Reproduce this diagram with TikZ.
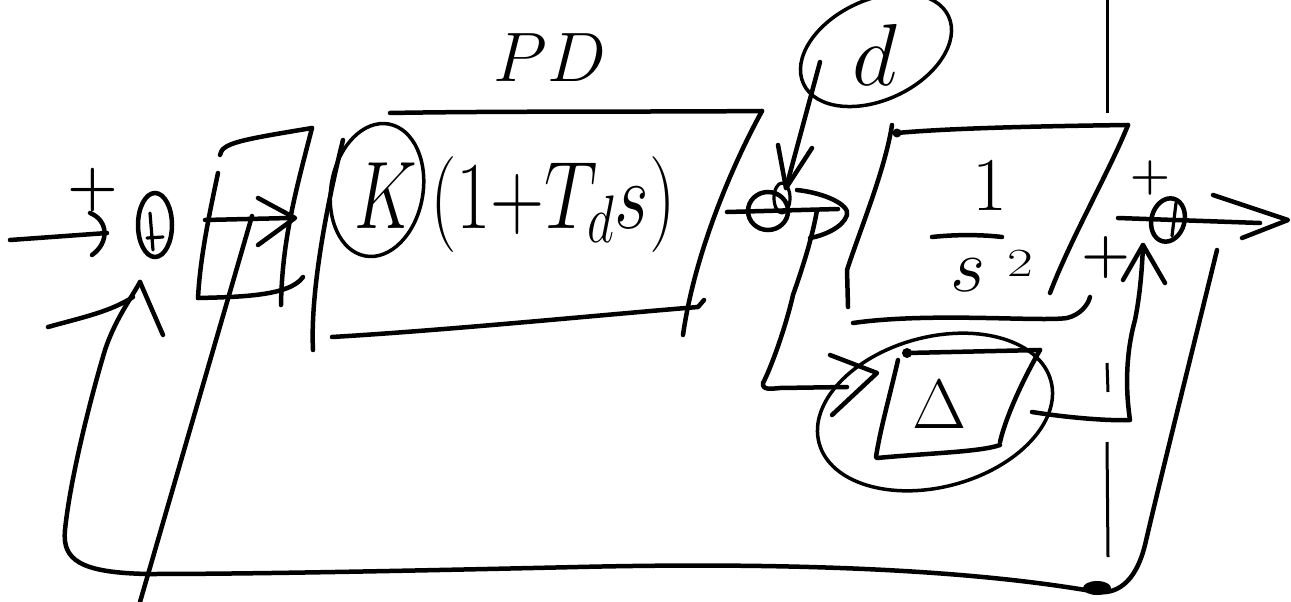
\documentclass[tikz,border=0pt]{standalone}
\usepackage{fix-cm}
\usepackage{graphicx}
\usetikzlibrary{shapes.geometric}
\begin{document}
\begin{tikzpicture}[x=1pt,y=-1pt,
  pen/.style={line width=4.5pt, line cap=round, line join=round},
  thinpen/.style={line width=3.2pt, line cap=round, line join=round},
  sumnode/.style={draw, ellipse, inner sep=0pt, line width=4.5pt},
  ring/.style={draw, ellipse, inner sep=0pt, line width=3.5pt},
  lbl/.style={inner sep=0pt, outer sep=0pt}]
\useasboundingbox (0,0) rectangle (1291,602);

% ---------- text labels ----------
\node[lbl, font=\fontsize{70}{72}\selectfont] (pd) at (550,58) {$PD$};
\node[lbl, font=\fontsize{96}{100}\selectfont, anchor=base] (kgain) at (386,228) {\scalebox{0.72}[1]{$K$}};
\node[lbl, font=\fontsize{96}{100}\selectfont, anchor=base] (pdtf) at (553,228) {\scalebox{0.78}[1]{$(1{+}T_d s)$}};
\node[ring, minimum width=92pt, minimum height=134pt, rotate=-10] (kring) at (377,190) {};
\node[ring, minimum width=160pt, minimum height=100pt, rotate=25] (dring) at (876,50) {};
\node[lbl, font=\fontsize{88}{90}\selectfont] (dlbl) at (875,55) {$d$};
\node[lbl, font=\fontsize{76}{80}\selectfont] (num) at (990,186) {$1$};
\node[lbl, font=\fontsize{76}{80}\selectfont, anchor=base] (den) at (968,291) {$s$};
\node[lbl, font=\fontsize{40}{42}\selectfont, anchor=base] (sq) at (1020,276) {\scalebox{1.4}[1]{$2$}};
\node[lbl, font=\fontsize{70}{72}\selectfont] (delta) at (940,405) {$\Delta$};
\node[ring, minimum width=240pt, minimum height=150pt, rotate=15] (dlring) at (935,412) {};
\node[lbl, font=\fontsize{58}{60}\selectfont\boldmath] (p1) at (93,190) {$+$};
\node[lbl, font=\fontsize{46}{48}\selectfont\boldmath] (p3a) at (1150,178) {$+$};
\node[lbl, font=\fontsize{56}{58}\selectfont\boldmath] (p3b) at (1106,257) {$+$};

% ---------- summing junctions ----------
\node[sumnode, minimum width=34pt, minimum height=64pt] (s1) at (155,225) {};
\node[sumnode, minimum width=40pt, minimum height=38pt] (s2) at (768,211) {};
\node[sumnode, minimum width=33pt, minimum height=44pt, rotate=-15] (s3) at (1168,220) {};
\draw[thinpen] (150,213) -- (153,250) (147,238) -- (163,237);
\draw[thinpen] (1176,203) -- (1172,236);
\draw[thinpen] (782,198) ellipse [x radius=8, y radius=15];

% ---------- named end points ----------
\coordinate (inS) at (10,240);
\coordinate (inE) at (107,233);
\coordinate (fbtip) at (140,282);
\coordinate (s2in) at (727,212);
\coordinate (s2out) at (838,209);
\coordinate (dstart) at (820,62);
\coordinate (dtip) at (786,188);
\coordinate (brS) at (817,210);
\coordinate (brE) at (847,387);
\coordinate (dlOut) at (1032,412);
\coordinate (dlTip) at (1143,245);
\coordinate (s3in) at (1118,218);
\coordinate (s3out) at (1260,223);
\coordinate (fbS) at (1217,250);
\coordinate (barL) at (932,237);
\coordinate (barR) at (1002,237);

% ---------- fraction bar ----------
\draw[pen] (barL) .. controls (960,234) and (985,235) .. (barR);

% ---------- input arrow ----------
\draw[pen] (inS) -- (inE);
\draw[pen] (90,213) .. controls (108,220) and (110,242) .. (92,255);

% ---------- small block after s1 ----------
\draw[pen] (220,155) .. controls (222,143) and (240,140) .. (312,128);
\draw[pen] (312,128) .. controls (296,190) and (282,240) .. (281,305);
\draw[pen] (218,173) .. controls (208,220) and (200,260) .. (198,298);
\draw[pen] (198,298) .. controls (240,297) and (290,296) .. (303,277);
\draw[pen] (205,220) -- (290,218);
\draw[pen] (258,198) -- (295,218) -- (258,245);
\draw[pen] (252,216) -- (140,602);

% ---------- PD block ----------
\draw[pen] (343,140) .. controls (328,200) and (310,290) .. (313,350);
\draw[pen] (390,113) .. controls (500,111) and (650,112) .. (762,111);
\draw[pen] (762,111) .. controls (735,160) and (695,250) .. (683,335);
\draw[pen] (332,337) .. controls (450,330) and (600,315) .. (698,307) -- (704,300);

% ---------- disturbance d ----------
\draw[pen] (dstart) -- (dtip);
\draw[pen] (778,145) -- (dtip) -- (812,148);

% ---------- s2 ----------
\draw[pen] (s2in) -- (s2out);
\draw[pen] (797,190) .. controls (825,193) and (850,205) .. (847,215) .. controls (843,228) and (822,236) .. (810,238);
\draw[pen] (brS) .. controls (812,240) and (800,275) .. (793,295) .. controls (785,330) and (770,370) .. (763,383) .. controls (762,390) and (770,389) .. (780,388) -- (brE);
\draw[pen] (830,355) -- (877,373) -- (832,415);

% ---------- 1/s^2 block ----------
\draw[pen] (892,125) .. controls (885,170) and (860,230) .. (847,270) -- (848,307);
\draw[pen] (897,133) .. controls (950,128) and (1050,126) .. (1128,125);
\draw[pen] (1128,125) .. controls (1110,170) and (1070,240) .. (1050,293);
\draw[pen] (853,323) .. controls (930,312) and (1040,322) .. (1067,318) .. controls (1080,315) and (1088,305) .. (1090,297);
\fill (897,133) circle [radius=4.5];

% ---------- Delta block ----------
\draw[pen] (907,353) -- (1040,350);
\draw[pen] (898,360) .. controls (890,395) and (880,430) .. (876,457);
\draw[pen] (1040,350) .. controls (1020,385) and (1005,420) .. (1000,442);
\draw[pen] (877,458) .. controls (930,453) and (980,452) .. (1000,445);
\fill (907,353) circle [radius=5];

% ---------- Delta output into s3 ----------
\draw[pen] (dlOut) .. controls (1070,418) and (1110,421) .. (1130,420) .. controls (1124,380) and (1128,345) .. (1135,320) .. controls (1140,295) and (1142,270) .. (dlTip);
\draw[pen] (1123,280) -- (dlTip) -- (1165,283);

% ---------- output ----------
\draw[pen] (s3in) -- (s3out);
\draw[pen] (1213,195) -- (1288,220) -- (1242,238);

% ---------- feedback loop ----------
\draw[pen] (fbS) .. controls (1195,340) and (1160,480) .. (1145,545) .. controls (1135,585) and (1115,594) .. (1097,592) .. controls (950,566) and (750,563) .. (578,567) .. controls (400,571) and (250,574) .. (150,574) .. controls (80,573) and (62,560) .. (65,530) .. controls (70,480) and (90,400) .. (105,350) .. controls (115,320) and (130,300) .. (fbtip);
\draw[pen] (fbtip) -- (163,335);
\draw[pen] (48,327) .. controls (80,318) and (110,312) .. (133,297);
\fill (1097,588) ellipse [x radius=14, y radius=7];

% ---------- vertical rule ----------
\draw[line width=3pt] (1107,0) -- (1107,113);
\draw[line width=3pt] (1107,363) -- (1108,392);
\draw[line width=3pt] (1107,442) -- (1108,557);
\end{tikzpicture}
\end{document}
